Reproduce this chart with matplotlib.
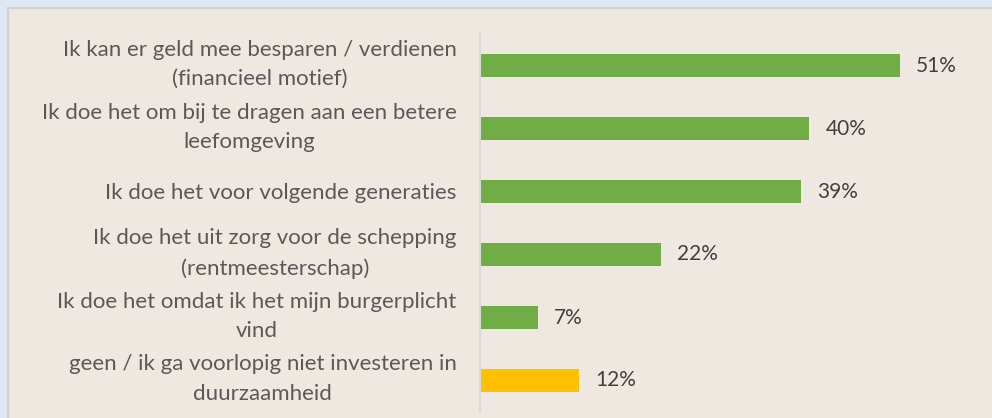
import matplotlib.pyplot as plt
from matplotlib.transforms import ScaledTranslation
from matplotlib.patches import Rectangle

labels = [
    "Ik kan er geld mee besparen / verdienen\n(financieel motief)",
    "Ik doe het om bij te dragen aan een betere\nleefomgeving",
    "Ik doe het voor volgende generaties",
    "Ik doe het uit zorg voor de schepping\n(rentmeesterschap)",
    "Ik doe het omdat ik het mijn burgerplicht\nvind",
    "geen / ik ga voorlopig niet investeren in\nduurzaamheid",
]
values = [51, 40, 39, 22, 7, 12]
colors = ["#70ad47"] * 5 + ["#ffc000"]

plt.rcParams['font.family'] = ['Lato', 'DejaVu Sans']

fig = plt.figure(figsize=(9.92, 4.18), dpi=100)
fig.patch.set_facecolor("#dde8f4")

# beige panel behind the chart (runs off the right and bottom edges)
panel = Rectangle((8 / 992, -0.1), 1.1, 1.1 - 8 / 418, transform=fig.transFigure,
                  facecolor="#efe8e1", edgecolor="#d0d0d0", linewidth=1.5, zorder=-10)
fig.patches.append(panel)

ax = fig.add_axes([480 / 992, 6 / 418, 494 / 992, 378 / 418])
ax.set_facecolor("none")
ax.set_zorder(5)

y = list(range(len(labels)))
ax.barh(y, values, height=0.36, color=colors)
ax.set_ylim(len(labels) - 0.5, -0.5)
ax.set_xlim(0, 60)

for yi, v in zip(y, values):
    ax.text(v + 1.95, yi, f"{v}%", va="center", ha="left", fontsize=15, color="#404040")

ax.set_yticks(y)
ax.set_yticklabels(labels, fontsize=16, color="#595959", linespacing=1.6,
                   multialignment="center")
ax.tick_params(axis="y", length=0, pad=17)
# two-line labels sit a bit higher than their bar in the original
for t in ax.get_yticklabels():
    dy = 8 if "\n" in t.get_text() else 1
    t.set_transform(t.get_transform() + ScaledTranslation(0, dy / 100, fig.dpi_scale_trans))
ax.set_xticks([])
for s in ["top", "right", "bottom"]:
    ax.spines[s].set_visible(False)
ax.spines["left"].set_color("#d9d9d9")
ax.spines["left"].set_linewidth(1.5)

fig.savefig("out.png", dpi=100)
